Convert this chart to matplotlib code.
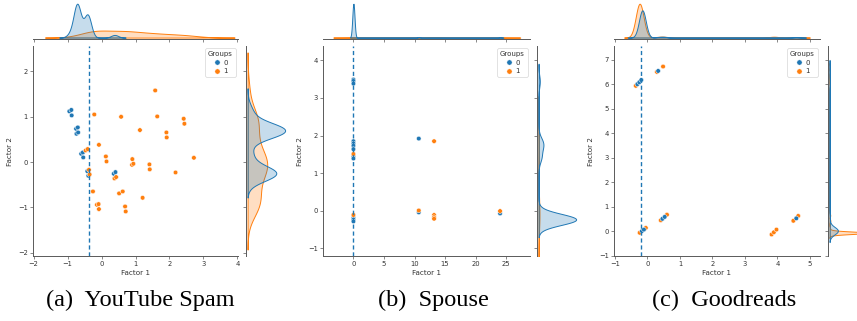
import numpy as np
import matplotlib.pyplot as plt
from matplotlib.colors import to_rgba
from matplotlib.lines import Line2D

W, H = 857, 321
COLORS = {0: '#1f77b4', 1: '#ff7f0e'}

# ---- (a) YouTube Spam: factor scores, group, count of items on that spot ----
yt_x = [-0.95, -0.89, -0.88, -0.75, -0.70, -0.74, -0.69, -0.60, -0.55, -0.54, -0.42, -0.39, 0.36, 0.41,
        -0.215, 0.576, 1.58, 1.64, 2.42, 2.44, 1.13, 1.91, 1.92, -0.078, -0.468, -0.41, 0.127, 0.146,
        0.907, 2.72, 0.898, 0.937, 1.41, 1.42, 2.18, -0.371, -0.351, 0.38, 0.43, -0.254, 0.517, 0.624,
        1.21, -0.137, -0.088, -0.078, 0.693, 0.712]
yt_y = [1.12, 1.15, 1.03, 0.735, 0.765, 0.625, 0.654, 0.184, 0.213, 0.103, -0.20, -0.30, -0.257, -0.22,
        1.05, 1.0, 1.58, 1.007, 0.956, 0.846, 0.706, 0.654, 0.544, 0.382, 0.257, 0.287, 0.125, 0.015,
        0.066, 0.096, -0.059, -0.037, -0.05, -0.16, -0.228, -0.169, -0.272, -0.36, -0.33, -0.647, -0.69, -0.647,
        -0.787, -0.94, -0.926, -1.037, -0.978, -1.088]
yt_group = [0] * 14 + [1] * 34
yt_count = [1, 1, 1, 6, 6, 6, 6, 1, 1, 1, 8, 8, 1, 1] + [1.6] * 34
yt_cut = -0.36

# ---- (b) Spouse ----
sp_x = [0, 0, 0, 0, 0, 0, 0, 0, 0, 0, 0, 0, 10.7, 10.7, 24.0,
        0, 0, 13.2, 10.7, 13.2, 13.2, 13.2, 24.0]
sp_y = [3.49, 3.45, 3.38, 1.85, 1.79, 1.73, 1.64, 1.45, 1.39, -0.18, -0.23, -0.28, 1.92, -0.04, -0.07,
        1.51, -0.11, 1.85, 0.01, -0.11, -0.17, -0.21, -0.006]
sp_group = [0] * 15 + [1] * 8
sp_count = [1, 1, 1, 3, 3, 3, 3, 3, 3, 30, 30, 30, 1, 1, 1] + [1] * 8
sp_cut = 0.0

# ---- (c) Goodreads ----
gr_x = [-0.36, 0.29, 0.48, -0.24, -0.05, 0.41, 0.60, 3.82, 3.89, 3.97, 4.49, 4.64,
        -0.31, -0.25, -0.19, 0.33, -0.17, -0.11, 0.46, 0.53, 4.58]
gr_y = [5.94, 6.51, 6.73, -0.07, 0.13, 0.44, 0.67, -0.14, -0.05, 0.06, 0.42, 0.62,
        6.01, 6.09, 6.18, 6.55, 0.0, 0.06, 0.50, 0.58, 0.52]
gr_group = [1] * 12 + [0] * 9
gr_count = [1, 1, 1, 100, 1, 1, 1, 1, 1, 1, 1, 1,
            1, 1, 1, 1, 50, 18, 1, 1, 1]
gr_cut = -0.21

captions = ['(a)  YouTube Spam', '(b)  Spouse', '(c)  Goodreads']

panels = [
    dict(x=yt_x, y=yt_y, g=yt_group, w=yt_count, cut=yt_cut,
         main=(33, 46, 238, 256), top=(33, 2, 238, 39), right=(246, 46, 287, 256),
         xlim=(-2.02, 4.02), ylim=(-2.07, 2.56), xticks=range(-2, 5), yticks=range(-2, 3),
         bwx={0: 0.1, 1: 0.4}, bwy={0: 0.16, 1: 0.28}, cap_x=140),
    dict(x=sp_x, y=sp_y, g=sp_group, w=sp_count, cut=sp_cut,
         main=(323, 46, 530, 256), top=(323, 2, 530, 39), right=(537, 46, 578, 256),
         xlim=(-4.98, 28.9), ylim=(-1.2, 4.38), xticks=range(0, 30, 5), yticks=range(-1, 5),
         bwx={0: 0.18, 1: 1.1}, bwy={0: 0.14, 1: 0.4}, cap_x=433),
    dict(x=gr_x, y=gr_y, g=gr_group, w=gr_count, cut=gr_cut,
         main=(614, 46, 820, 256), top=(614, 2, 820, 39), right=(828, 46, 869, 256),
         xlim=(-1.03, 5.31), ylim=(-1.02, 7.57), xticks=range(-1, 6), yticks=range(-1, 8),
         bwx={0: 0.1, 1: 0.12}, bwy={0: 0.15, 1: 0.05}, cap_x=724),
]

SPINE = '0.35'
TXT = '0.2'


def px_axes(fig, box):
    x0, y0, x1, y1 = box
    return fig.add_axes([x0 / W, 1 - y1 / H, (x1 - x0) / W, (y1 - y0) / H])


def kde(vals, weights, bw, n=500):
    vals = np.asarray(vals, float)
    weights = np.asarray(weights, float)
    grid = np.linspace(vals.min() - 3 * bw, vals.max() + 3 * bw, n)
    z = (grid[:, None] - vals[None, :]) / bw
    dens = (weights[None, :] * np.exp(-0.5 * z ** 2)).sum(axis=1) / (bw * np.sqrt(2 * np.pi))
    return grid, dens


fig = plt.figure(figsize=(W / 100, H / 100), dpi=100)

for p, cap in zip(panels, captions):
    x = np.array(p['x'], float)
    y = np.array(p['y'], float)
    g = np.array(p['g'])
    w = np.array(p['w'], float)

    ax = px_axes(fig, p['main'])
    ax_t = px_axes(fig, p['top'])
    ax_r = px_axes(fig, p['right'])

    # joint scatter
    ax.scatter(x, y, c=[COLORS[k] for k in g], s=11, edgecolors='white', linewidths=0.35)
    ax.axvline(p['cut'], color=COLORS[0], ls='--', lw=1.0, dashes=(3, 2))
    ax.set_xlim(p['xlim'])
    ax.set_ylim(p['ylim'])
    ax.set_xticks(list(p['xticks']))
    ax.set_yticks(list(p['yticks']))
    ax.set_xlabel('Factor 1', fontsize=5.2, color=TXT, labelpad=2)
    ax.set_ylabel('Factor 2', fontsize=5.2, color=TXT, labelpad=3.5)
    ax.tick_params(labelsize=4.9, labelcolor=TXT, length=2.3, width=0.5, color=SPINE, pad=1.5)
    for s in ('top', 'right'):
        ax.spines[s].set_visible(False)
    for s in ('left', 'bottom'):
        ax.spines[s].set_color(SPINE)
        ax.spines[s].set_linewidth(0.7)

    handles = [Line2D([], [], marker='o', ls='', color=COLORS[k], markeredgecolor='white',
                      markeredgewidth=0.3, markersize=3.8) for k in (0, 1)]
    leg = ax.legend(handles, ['0', '1'], title='Groups', loc='upper right', fontsize=5,
                    title_fontsize=5, handletextpad=0.3, borderpad=0.4, labelspacing=0.35,
                    handlelength=1.3, borderaxespad=0.35, edgecolor='0.8', framealpha=0.8)
    leg.get_frame().set_linewidth(0.5)
    for t in leg.get_texts():
        t.set_color(TXT)
    leg.get_title().set_color(TXT)

    # marginal kdes, first group drawn last so it sits on top
    for k in (1, 0):
        m = g == k
        col = COLORS[k]
        gx, dx = kde(x[m], w[m], p['bwx'][k])
        ax_t.fill_between(gx, 0, dx, facecolor=to_rgba(col, 0.25), edgecolor=col, lw=0.7)
        gy, dy = kde(y[m], w[m], p['bwy'][k])
        ax_r.fill_betweenx(gy, 0, dy, facecolor=to_rgba(col, 0.25), edgecolor=col, lw=0.7)

    ax_t.set_xlim(p['xlim'])
    ax_t.set_xticks(list(p['xticks']))
    ax_t.set_yticks([])
    ax_t.set_ylim(bottom=-0.04 * ax_t.get_ylim()[1])
    ax_t.tick_params(axis='x', labelbottom=False, length=2, width=0.5, color=SPINE)
    ax_r.set_ylim(p['ylim'])
    ax_r.set_yticks(list(p['yticks']))
    ax_r.set_xticks([])
    ax_r.set_xlim(left=-0.04 * ax_r.get_xlim()[1])
    ax_r.tick_params(axis='y', labelleft=False, length=2, width=0.5, color=SPINE)
    for s in ('top', 'right', 'left'):
        ax_t.spines[s].set_visible(False)
    for s in ('top', 'right', 'bottom'):
        ax_r.spines[s].set_visible(False)
    ax_t.spines['bottom'].set_color(SPINE)
    ax_r.spines['left'].set_color(SPINE)
    ax_t.spines['bottom'].set_linewidth(0.7)
    ax_r.spines['left'].set_linewidth(0.7)
    ax_t.patch.set_alpha(0)
    ax_r.patch.set_alpha(0)

    fig.text(p['cap_x'] / W, 1 - 300 / H, cap, ha='center', va='center',
             family='Liberation Serif', fontsize=17.5)

fig.savefig('out.png', dpi=100)
